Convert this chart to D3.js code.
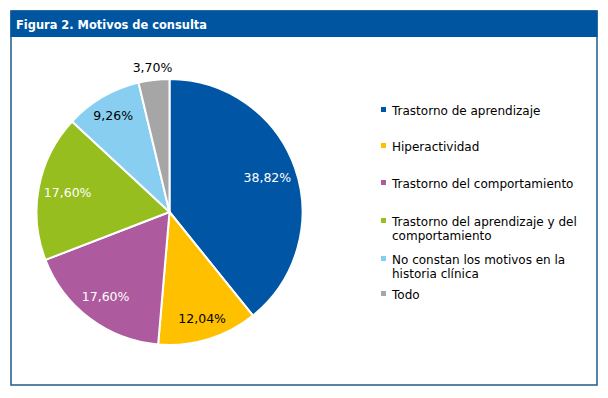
<!DOCTYPE html>
<html><head><meta charset="utf-8">
<script src="https://cdn.jsdelivr.net/npm/d3@7"></script>
<style>html,body{margin:0;padding:0;background:#fff;}svg{display:block;}</style>
</head><body>
<script>
const categories = ["Trastorno de aprendizaje","Hiperactividad","Trastorno del comportamiento","Trastorno del aprendizaje y del comportamiento","No constan los motivos en la historia clínica","Todo"];
const values = [38.82, 12.04, 17.60, 17.60, 9.26, 3.70];
const labels = ["38,82%","12,04%","17,60%","17,60%","9,26%","3,70%"];
const legendLines = [["Trastorno de aprendizaje"],["Hiperactividad"],["Trastorno del comportamiento"],["Trastorno del aprendizaje y del","comportamiento"],["No constan los motivos en la","historia clínica"],["Todo"]];
const colors = ["#0055A4","#FFC000","#AE5A9E","#96BE1E","#87CEF0","#A6A6A6"];
const labelColors = ["#fff","#000","#fff","#fff","#000","#000"];

const W=608,H=398;
const svg=d3.select("body").append("svg").attr("width",W).attr("height",H);
const font="Verdana, 'DejaVu Sans', sans-serif";

// frame
svg.append("rect").attr("x",11).attr("y",11).attr("width",586).attr("height",374)
  .attr("fill","#fff").attr("stroke","#1F5A8A").attr("stroke-width",1.5);
svg.append("rect").attr("x",10.5).attr("y",10.5).attr("width",587).attr("height",26.5).attr("fill","#0055A0");
svg.append("text").attr("x",16).attr("y",29).attr("fill","#fff")
  .attr("font-family","'DejaVu Sans Condensed', 'DejaVu Sans', sans-serif").attr("font-weight","bold").attr("font-size",13)
  .attr("textLength",191).attr("lengthAdjust","spacingAndGlyphs")
  .text("Figura 2. Motivos de consulta");

const cx=169.5,cy=212,r=133;
const pie=d3.pie().sort(null).value(d=>d);
const arcs=pie(values);
const arc=d3.arc().innerRadius(0).outerRadius(r);
const g=svg.append("g").attr("transform",`translate(${cx},${cy})`);
g.selectAll("path").data(arcs).enter().append("path")
  .attr("d",arc).attr("fill",(d,i)=>colors[i]).attr("stroke","#fff").attr("stroke-width",2).attr("stroke-linejoin","round");

const labelR=[0.78,0.84,0.80,0.78,0.84,1.09];
g.selectAll("text.lbl").data(arcs).enter().append("text").attr("class","lbl")
  .attr("transform",(d,i)=>{const a=(d.startAngle+d.endAngle)/2;const rr=r*labelR[i];return `translate(${Math.sin(a)*rr},${-Math.cos(a)*rr})`;})
  .attr("text-anchor","middle").attr("dy","0.35em")
  .attr("font-family",font).attr("font-size",12.5)
  .attr("fill",(d,i)=>labelColors[i]).text((d,i)=>labels[i]);

// legend
const rowY=[111,147,184,222,260,295];
const lg=svg.append("g");
categories.forEach((c,i)=>{
  lg.append("rect").attr("x",381).attr("y",rowY[i]-4).attr("width",5).attr("height",5).attr("fill",colors[i]);
  const t=lg.append("text").attr("x",392).attr("y",rowY[i]).attr("dy","0.35em")
    .attr("font-family",font).attr("font-size",12).attr("fill","#000");
  legendLines[i].forEach((l,j)=>{
    t.append("tspan").attr("x",392).attr("dy",j===0?"0.35em":"14px").text(l);
  });
});
</script>
</body></html>
